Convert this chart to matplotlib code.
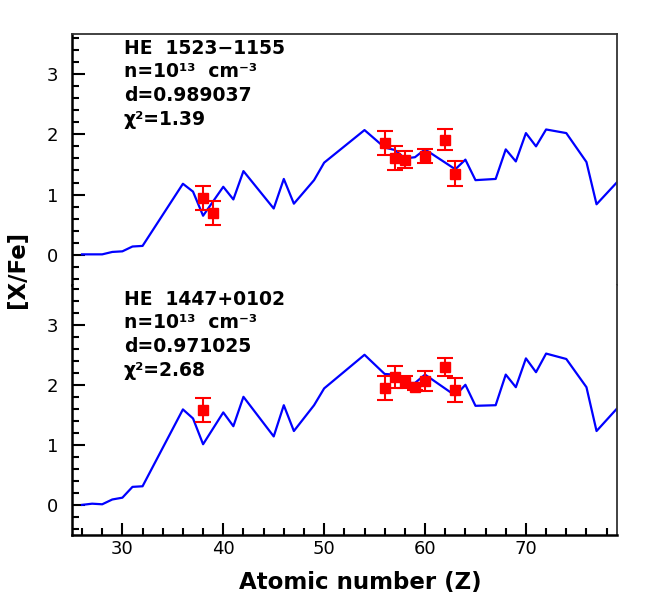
import matplotlib
matplotlib.use('Agg')
import matplotlib.pyplot as plt
from matplotlib.ticker import MultipleLocator

# Model curve (atomic number vs [X/Fe]) for both stars
model_z = [26, 27, 28, 29, 30, 31, 32, 36, 37, 38, 40, 41, 42, 45, 46, 47, 49, 50,
           54, 56, 57, 58, 59, 60, 63, 64, 65, 67, 68, 69, 70, 71, 72, 74, 76, 77, 79]
model_top = [0.01, 0.01, 0.01, 0.05, 0.06, 0.14, 0.15, 1.18, 1.05, 0.65, 1.13, 0.92, 1.39,
             0.77, 1.26, 0.85, 1.24, 1.53, 2.07, 1.78, 1.74, 1.60, 1.62, 1.75, 1.42, 1.58,
             1.24, 1.26, 1.75, 1.55, 2.02, 1.80, 2.08, 2.02, 1.54, 0.84, 1.20]
model_bot = [0.00, 0.02, 0.01, 0.09, 0.12, 0.30, 0.31, 1.59, 1.44, 1.01, 1.54, 1.31, 1.80,
             1.14, 1.66, 1.23, 1.66, 1.94, 2.50, 2.18, 2.17, 2.03, 2.03, 2.17, 1.82, 2.00,
             1.65, 1.66, 2.17, 1.96, 2.44, 2.21, 2.52, 2.43, 1.96, 1.23, 1.60]

# Observed abundances
obs_z_top = [38, 39, 56, 57, 58, 60, 62, 63]
obs_top = [0.94, 0.69, 1.85, 1.60, 1.58, 1.64, 1.91, 1.35]
err_top = [0.20, 0.20, 0.20, 0.20, 0.14, 0.12, 0.17, 0.20]

obs_z_bot = [38, 56, 57, 58, 59, 60, 62, 63]
obs_bot = [1.58, 1.94, 2.13, 2.05, 1.96, 2.06, 2.30, 1.92]
err_bot = [0.20, 0.20, 0.19, 0.10, 0.05, 0.17, 0.15, 0.20]

labels_top = ['HE  1523\u22121155', 'n=10\u00b9\u00b3  cm\u207b\u00b3', 'd=0.989037', '\u03c7\u00b2=1.39']
labels_bot = ['HE  1447+0102', 'n=10\u00b9\u00b3  cm\u207b\u00b3', 'd=0.971025', '\u03c7\u00b2=2.68']

fig = plt.figure(figsize=(6.54, 5.99), dpi=100)
ax_top = fig.add_axes([0.110, 0.524, 0.833, 0.419])
ax_bot = fig.add_axes([0.110, 0.107, 0.833, 0.417])

panels = [(ax_top, model_top, obs_z_top, obs_top, err_top, labels_top),
          (ax_bot, model_bot, obs_z_bot, obs_bot, err_bot, labels_bot)]

for ax, model, oz, ov, oe, labels in panels:
    ax.plot(model_z, model, color='blue', lw=1.6, zorder=2)
    ax.errorbar(oz, ov, yerr=oe, fmt='s', color='red', ms=7.5, capsize=5.5,
                elinewidth=1.5, capthick=1.5, zorder=3)
    ax.set_xlim(25, 79)
    ax.set_ylim(-0.5, 3.66)
    ax.yaxis.set_major_locator(MultipleLocator(1))
    ax.yaxis.set_minor_locator(MultipleLocator(0.2))
    ax.xaxis.set_major_locator(MultipleLocator(10))
    ax.xaxis.set_minor_locator(MultipleLocator(2))
    ax.tick_params(which='both', direction='in', width=1.5, labelsize=13,
                   top=False, right=False)
    ax.tick_params(which='major', length=9)
    ax.tick_params(which='minor', length=5)
    ax.tick_params(axis='y', pad=10)
    ax.spines['left'].set_linewidth(1.8)
    ax.spines['right'].set_linewidth(1.3)
    ax.spines['right'].set_color('#333333')
    ax.spines['top'].set_color('#333333')
    ax.spines['top'].set_linewidth(1.3)
    ax.spines['bottom'].set_linewidth(1.8)
    for y, txt in zip([0.944, 0.852, 0.756, 0.66], labels):
        ax.text(0.095, y, txt, transform=ax.transAxes, fontsize=13.5,
                fontweight='bold', va='center', ha='left')

ax_top.spines['bottom'].set_visible(False)
ax_top.tick_params(axis='x', which='both', bottom=False, labelbottom=False)
ax_bot.spines['top'].set_visible(False)

ax_bot.set_xlabel('Atomic number (Z)', fontsize=16.5, fontweight='bold')
ax_bot.xaxis.set_label_coords(0.53, -0.145)
fig.text(0.026, 0.55, '[X/Fe]', rotation=90, fontsize=16.5, fontweight='bold',
         va='center', ha='center')

plt.savefig('out.png', dpi=100)
